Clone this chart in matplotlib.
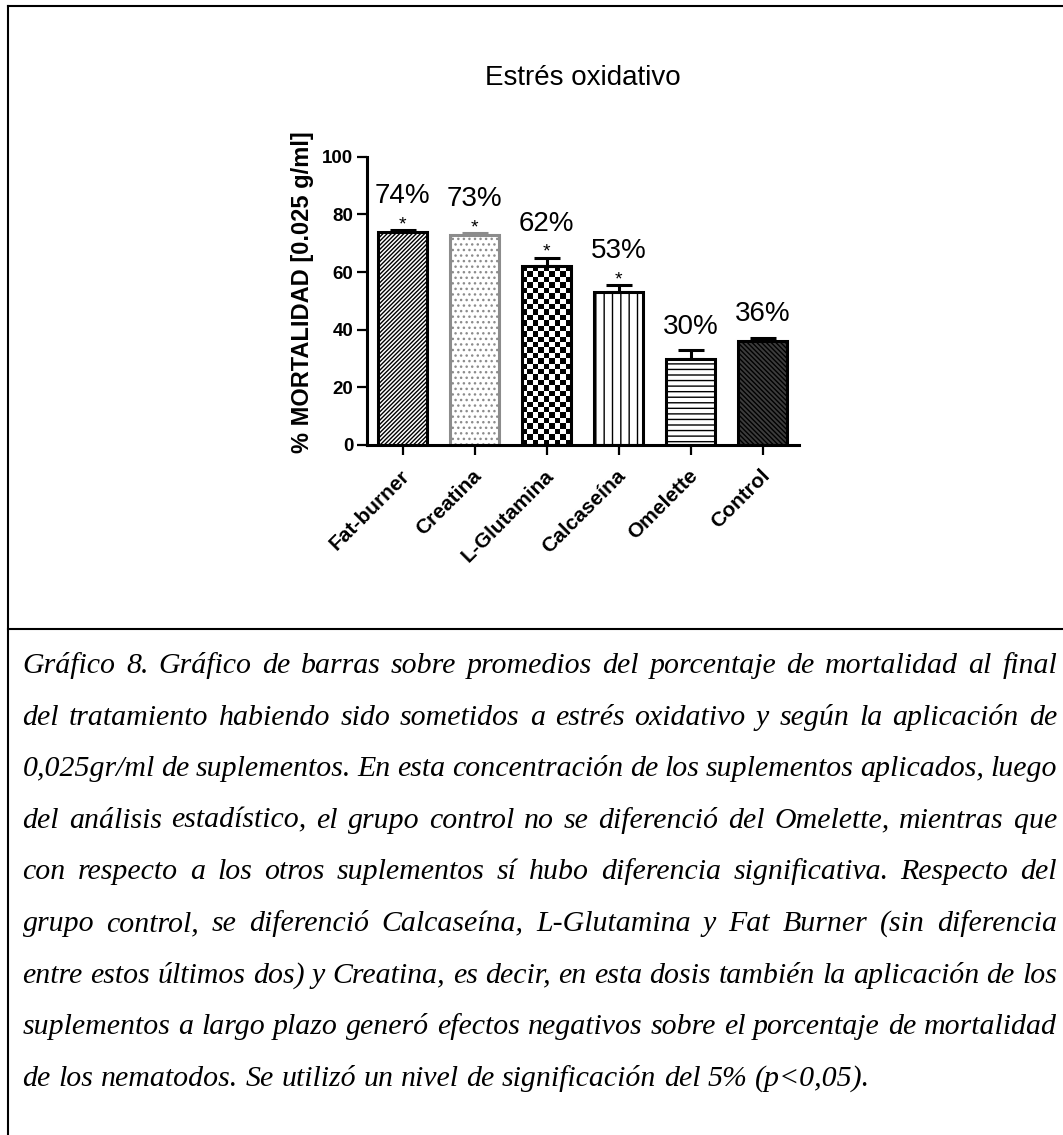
import numpy as np
import matplotlib
matplotlib.use("Agg")
import matplotlib.pyplot as plt
from matplotlib.lines import Line2D
from matplotlib.transforms import ScaledTranslation

# ---- data ----
categories = ["Fat-burner", "Creatina", "L-Glutamina", "Calcaseína", "Omelette", "Control"]
mortality = [74, 73, 62, 53, 30, 36]
sem = [0.6, 0.5, 3.0, 2.5, 2.8, 1.2]
significant = [True, True, True, True, False, False]
yticks = [0, 20, 40, 60, 80, 100]
title = "Estrés oxidativo"
ylabel = "% MORTALIDAD [0.025 g/ml]"
caption_lines = [
    "Gráfico 8. Gráfico de barras sobre promedios del porcentaje de mortalidad al final",
    "del tratamiento habiendo sido sometidos a estrés oxidativo y según la aplicación de",
    "0,025gr/ml de suplementos. En esta concentración de los suplementos aplicados, luego",
    "del análisis estadístico, el grupo control no se diferenció del Omelette, mientras que",
    "con respecto a los otros suplementos sí hubo diferencia significativa. Respecto del",
    "grupo control, se diferenció Calcaseína, L-Glutamina y Fat Burner (sin diferencia",
    "entre estos últimos dos) y Creatina, es decir, en esta dosis también la aplicación de los",
    "suplementos a largo plazo generó efectos negativos sobre el porcentaje de mortalidad",
    "de los nematodos. Se utilizó un nivel de significación del 5% (p<0,05).",
]

# ---- bar styles ----
bar_styles = [
    dict(facecolor="white", edgecolor="black", hatch="////////"),
    dict(facecolor="white", edgecolor="#8c8c8c", hatch="..."),
    dict(facecolor="none", edgecolor="black", hatch=None),      # checkerboard image underneath
    dict(facecolor="white", edgecolor="black", hatch="||"),
    dict(facecolor="white", edgecolor="black", hatch="---"),
    dict(facecolor="#3c3c3c", edgecolor="black", hatch="\\\\\\\\\\\\\\"),
]

W, H = 1063, 1135
DPI = 100
plt.rcParams["hatch.linewidth"] = 1.0
sans = "Liberation Sans"

fig = plt.figure(figsize=(W / DPI, H / DPI), dpi=DPI)
fig.patch.set_facecolor("white")


def fx(px):
    return px / W


def fy(py):
    return 1 - py / H


# axes placed in pixel terms
ax_left, ax_right, ax_top, ax_bottom = 366.7, 799.0, 156.7, 445.0
ax = fig.add_axes([fx(ax_left), fy(ax_bottom), (ax_right - ax_left) / W, (ax_bottom - ax_top) / H])
x = np.arange(len(categories))
ax.set_xlim(-0.5, len(categories) - 0.5)
ax.set_ylim(0, 100)

bars = ax.bar(x, mortality, width=0.68, linewidth=2.2, zorder=2)
for patch, st in zip(bars, bar_styles):
    patch.set_facecolor(st["facecolor"])
    patch.set_edgecolor(st["edgecolor"])
    if st["hatch"]:
        patch.set_hatch(st["hatch"])

# checkerboard fill for L-Glutamina
p = bars[2]
x0, y0, bw, bh = p.get_x(), p.get_y(), p.get_width(), p.get_height()
(px0, py0), (px1, py1) = ax.transData.transform([(x0, y0), (x0 + bw, y0 + bh)])
ncol = 9
cell = (px1 - px0) / ncol
nrow = max(1, int(round((py1 - py0) / cell)))
checker = np.add.outer(np.arange(nrow), np.arange(ncol)) % 2
im = ax.imshow(checker, cmap="gray", vmin=0, vmax=1, extent=(x0, x0 + bw, y0, y0 + bh),
               aspect="auto", interpolation="nearest", origin="upper", zorder=1.5)
im.set_clip_path(p)
ax.set_xlim(-0.5, len(categories) - 0.5)
ax.set_ylim(0, 100)

# upward-only error bars
for i, (v, e, st) in enumerate(zip(mortality, sem, bar_styles)):
    ax.errorbar(i, v, yerr=[[0], [e]], fmt="none", ecolor=st["edgecolor"],
                elinewidth=2.2, capsize=9.7, capthick=2.2, zorder=1.8)

# value labels and significance marks
for i, (v, e, sig) in enumerate(zip(mortality, sem, significant)):
    top = v + e
    ax.annotate(f"{v}%", xy=(i, top), xytext=(0, 19.4 if sig else 12.0),
                textcoords="offset points", ha="center", va="baseline",
                fontsize=20, family=sans, color="black", annotation_clip=False)
    if sig:
        ax.annotate("*", xy=(i, top), xytext=(0, 0.5), textcoords="offset points",
                    ha="center", va="baseline", fontsize=14, family=sans,
                    color="black", annotation_clip=False)

# axes styling
for side in ("top", "right"):
    ax.spines[side].set_visible(False)
for side in ("left", "bottom"):
    ax.spines[side].set_linewidth(2.2)
ax.set_yticks(yticks)
ax.set_yticklabels([str(t) for t in yticks], fontsize=13.5, fontweight="bold", family=sans)
ax.tick_params(axis="y", length=7.2, width=1.6, pad=2.4)
ax.set_xticks(x)
ax.set_xticklabels(categories, fontsize=15, fontweight="bold", family=sans,
                   rotation=45, ha="right", va="top", rotation_mode="anchor")
ax.tick_params(axis="x", length=7.2, width=1.6, pad=8.0)
shift = ScaledTranslation(-3 / DPI, 0, fig.dpi_scale_trans)
for lab in ax.get_xticklabels():
    lab.set_transform(lab.get_transform() + shift)

ax.set_title(title, fontsize=20, family=sans, pad=51.6)

fig.text(fx(302), fy(292), ylabel, rotation=90, ha="center", va="center",
         fontsize=17, fontweight="bold", family=sans)

# frame lines of the figure box
lw = 1.5
fig.add_artist(Line2D([fx(7.7), fx(W)], [fy(6), fy(6)], color="black", lw=lw))
fig.add_artist(Line2D([fx(7.7), fx(7.7)], [fy(6), fy(H)], color="black", lw=lw))
fig.add_artist(Line2D([fx(7.7), fx(W)], [fy(629), fy(629)], color="black", lw=lw))

# justified italic caption
cap_font = dict(family="Liberation Serif", style="italic", size=21.5)
renderer = fig.canvas.get_renderer()


def measure(s):
    t = fig.text(0, 0, s, **cap_font)
    w = t.get_window_extent(renderer).width
    t.remove()
    return w


space_w = measure("a a") - measure("aa")
left_px, right_px = 22.5, 1057.0
for i, line in enumerate(caption_lines):
    words = line.split(" ")
    base_y = 673 + 51.6 * i
    texts = [fig.text(0, fy(base_y), w, ha="left", va="baseline", **cap_font) for w in words]
    widths = [t.get_window_extent(renderer).width for t in texts]
    if i < len(caption_lines) - 1 and len(words) > 1:
        gap = max((right_px - left_px - sum(widths)) / (len(words) - 1), 0.5 * space_w)
    else:
        gap = space_w
    xpos = left_px
    for t, w in zip(texts, widths):
        t.set_x(fx(xpos))
        xpos += w + gap

fig.savefig("out.png", dpi=DPI, facecolor="white")
